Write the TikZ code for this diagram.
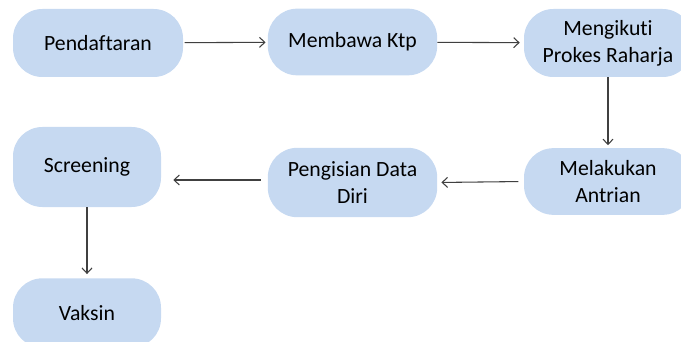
\documentclass[tikz,border=0pt]{standalone}
\usepackage{fontspec}
\setmainfont[Ligatures=NoCommon]{Carlito}
\usepackage{xcolor}
\usetikzlibrary{calc, positioning, arrows.meta}
\definecolor{biru}{HTML}{C6D9F1}
\definecolor{garis}{HTML}{404040}

\begin{document}
\begin{tikzpicture}[x=0.75pt, y=-0.75pt, >={Straight Barb[length=4pt, width=7.5pt]},
    kotak/.style={fill=biru, rounded corners=22pt, align=center, inner sep=0pt,
        font=\fontsize{16.3}{20.2}\selectfont},
    panah/.style={->, draw=garis, line width=0.8pt}]
    \useasboundingbox (0,0) rectangle (681,342);
    \clip (0,0) rectangle (681,342);
    % Kotak proses
    \node[kotak, minimum width=127.5pt, minimum height=51pt] (daftar) at (98,43) {Pendaftaran};
    \node[kotak, minimum width=127pt, minimum height=50pt] (ktp) at (352.5,42) {Membawa Ktp};
    \node[kotak, minimum width=126pt, minimum height=51pt] (prokes) at (608,43) {Mengikuti\\Prokes Raharja};
    \node[kotak, minimum width=126pt, minimum height=50pt] (antri) at (608,181.5) {Melakukan\\Antrian};
    \node[kotak, minimum width=127pt, minimum height=52pt] (isi) at (352.5,182.5) {Pengisian Data\\Diri};
    \node[kotak, minimum width=111pt, minimum height=60pt] (screen) at (87,167) {Screening};
    \node[kotak, minimum width=111pt, minimum height=52pt] (vaksin) at (87,313) {Vaksin};
    \coordinate (isikiri) at ($(isi.west)+(0,-2.5)$);
    % Panah
    \draw[panah, shorten <=1pt, shorten >=1.5pt] (daftar) -- (ktp);
    \draw[panah, shorten >=3pt] (ktp) -- (prokes);
    \draw[panah, shorten >=2pt] (prokes) -- (antri);
    \draw[panah, shorten <=4pt, shorten >=3pt] (antri.west) -- (isi.east);
    \draw[panah, shorten <=5pt, shorten >=9pt] (isikiri) -- (isikiri -| screen.east);
    \draw[panah, shorten >=3pt] (screen) -- (vaksin);
\end{tikzpicture}
\end{document}
